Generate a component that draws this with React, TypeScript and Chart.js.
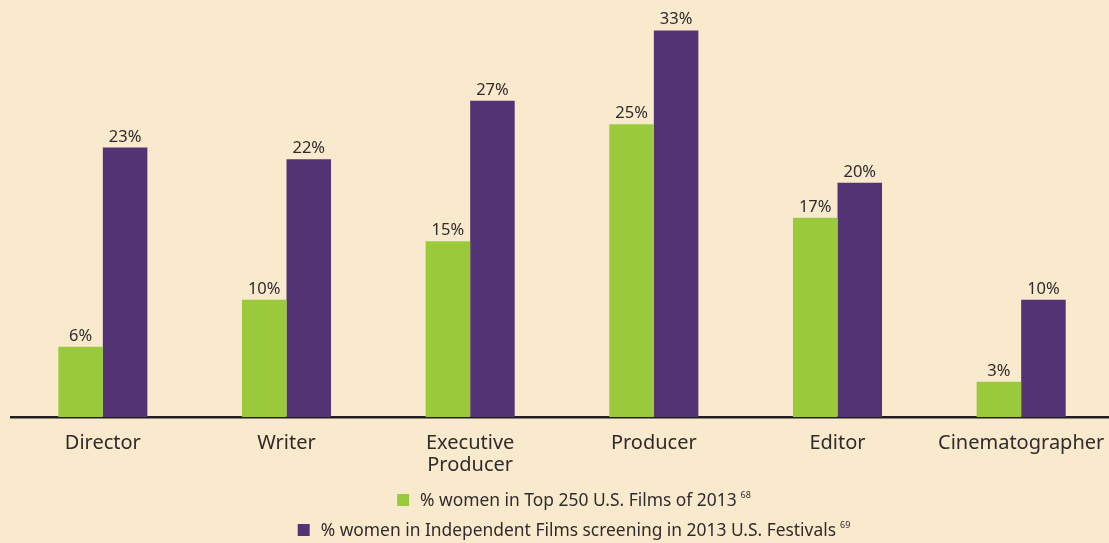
import React, { useEffect, useRef } from "react";
import { Chart, registerables } from "chart.js";

Chart.register(...registerables);

const categories: (string | string[])[] = [
  "Director",
  "Writer",
  ["Executive", "Producer"],
  "Producer",
  "Editor",
  "Cinematographer",
];
const top250Values = [6, 10, 15, 25, 17, 3];
const festivalValues = [23, 22, 27, 33, 20, 10];
const seriesNames = [
  "% women in Top 250 U.S. Films of 2013",
  "% women in Independent Films screening in 2013 U.S. Festivals",
];
const seriesNotes = ["68", "69"];

const GREEN = "#9ACA3C";
const PURPLE = "#523474";
const BG = "#FAEACD";
const TEXT = "#2f2b2c";
const FONT = "'Noto Sans'";

const valueLabels = {
  id: "valueLabels",
  afterDatasetsDraw(chart: any) {
    const ctx = chart.ctx;
    ctx.save();
    ctx.font = `16.5px ${FONT}`;
    ctx.fillStyle = TEXT;
    ctx.textAlign = "center";
    ctx.textBaseline = "alphabetic";
    chart.data.datasets.forEach((ds: any, di: number) => {
      const meta = chart.getDatasetMeta(di);
      meta.data.forEach((bar: any, i: number) => {
        ctx.fillText(`${ds.data[i]}%`, bar.x, bar.y - 6);
      });
    });
    ctx.restore();
  },
};

const customLegend = {
  id: "customLegend",
  afterDraw(chart: any) {
    const ctx = chart.ctx;
    ctx.save();
    const centerX = 574;
    const ys = [500, 530];
    const colors = [GREEN, PURPLE];
    seriesNames.forEach((name, i) => {
      ctx.font = `17.4px ${FONT}`;
      const tw = ctx.measureText(name).width;
      ctx.font = `9px ${FONT}`;
      const sw = ctx.measureText(seriesNotes[i]).width;
      const total = 12 + 11 + tw + 4 + sw;
      const x0 = centerX - total / 2;
      const y = ys[i];
      ctx.fillStyle = colors[i];
      ctx.fillRect(x0, y - 6, 12, 12);
      ctx.fillStyle = TEXT;
      ctx.textBaseline = "middle";
      ctx.textAlign = "left";
      ctx.font = `17.4px ${FONT}`;
      ctx.fillText(name, x0 + 23, y + 1);
      ctx.font = `9px ${FONT}`;
      ctx.fillText(seriesNotes[i], x0 + 23 + tw + 4, y - 5);
    });
    ctx.restore();
  },
};

export default function App() {
  const canvasRef = useRef<HTMLCanvasElement | null>(null);

  useEffect(() => {
    document.body.style.margin = "0";
    document.body.style.background = BG;
    const chart = new Chart(canvasRef.current as HTMLCanvasElement, {
      type: "bar",
      data: {
        labels: categories,
        datasets: [
          {
            label: seriesNames[0],
            data: top250Values,
            backgroundColor: GREEN,
            categoryPercentage: 0.485,
            barPercentage: 1,
          },
          {
            label: seriesNames[1],
            data: festivalValues,
            backgroundColor: PURPLE,
            categoryPercentage: 0.485,
            barPercentage: 1,
          },
        ],
      },
      options: {
        animation: false,
        responsive: true,
        maintainAspectRatio: false,
        layout: { padding: { left: 11, right: 17, top: 7, bottom: 66 } },
        plugins: {
          legend: { display: false },
          tooltip: { enabled: false },
        },
        scales: {
          x: {
            grid: { display: false, drawTicks: false },
            border: { display: true, color: "#231F20", width: 2.5 },
            ticks: {
              color: TEXT,
              font: { family: FONT, size: 20, lineHeight: 1.1 },
              padding: 15,
              maxRotation: 0,
              autoSkip: false,
            },
            afterFit(scale: any) {
              scale.height = 60;
            },
          },
          y: {
            display: false,
            min: 0,
            max: 35,
          },
        },
      },
      plugins: [valueLabels, customLegend],
    });
    return () => chart.destroy();
  }, []);

  return (
    <div
      style={{
        position: "fixed",
        left: 0,
        top: 0,
        width: 1109,
        height: 543,
        overflow: "hidden",
        background: BG,
      }}
    >
      <div style={{ position: "absolute", left: 0, top: 0, width: 1130, height: 543 }}>
        <canvas ref={canvasRef} />
      </div>
    </div>
  );
}
